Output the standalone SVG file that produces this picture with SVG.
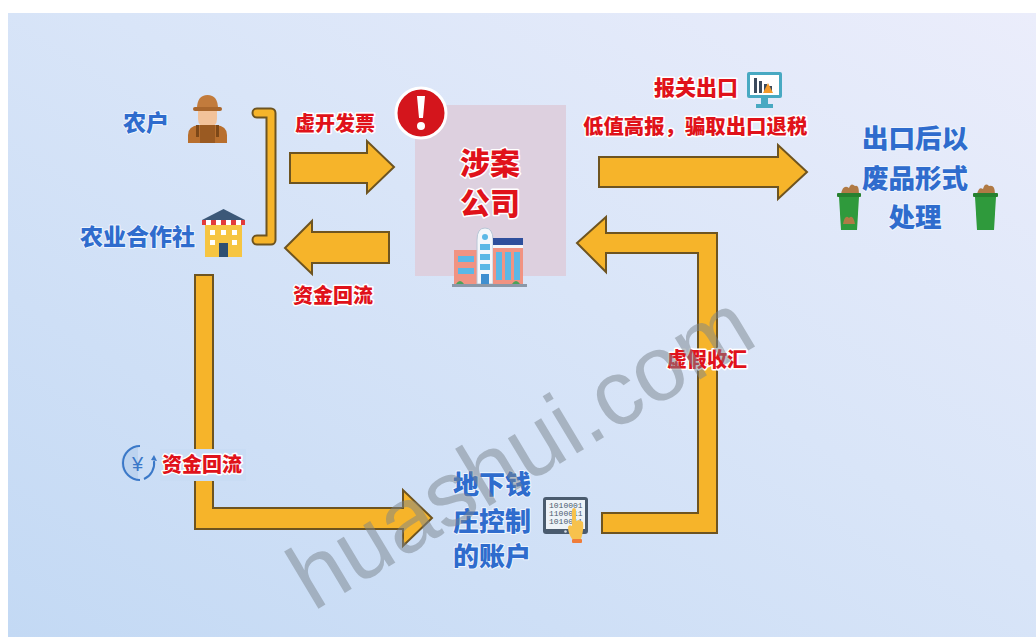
<svg xmlns="http://www.w3.org/2000/svg" width="1036" height="637" viewBox="0 0 1036 637">
  <defs>
    <linearGradient id="bg" x1="0" y1="1" x2="1" y2="0">
      <stop offset="0" stop-color="#c3d9f4"/>
      <stop offset="0.55" stop-color="#d9e5f8"/>
      <stop offset="1" stop-color="#ebedfb"/>
    </linearGradient>
    <style>
      .arrow { fill: #f6b42a; stroke: #6e5420; stroke-width: 2; stroke-linejoin: miter; }
      .red { font-family: "Noto Sans CJK SC", sans-serif; font-weight: 900; fill: #e0121a; stroke: #ffffff; stroke-width: 3; paint-order: stroke; stroke-linejoin: round; }
      .blue { font-family: "Noto Sans CJK SC", sans-serif; font-weight: 900; fill: #2f6ccd; stroke: #eef4fd; stroke-width: 2; paint-order: stroke; stroke-linejoin: round; }
      .mark { font-family: "Liberation Sans", "DejaVu Sans", sans-serif; font-size: 92px; fill: #7a838c; fill-opacity: 0.5; }
      .bin { fill: #2f9a3c; }
      .bag { fill: #b07a45; }
    </style>
  </defs>

  <!-- page -->
  <rect width="1036" height="637" fill="#ffffff"/>
  <rect x="8" y="13" width="1028" height="624" fill="url(#bg)"/>

  <!-- connectors -->
  <g id="connectors">
    <!-- bracket joining the two suppliers -->
    <path d="M257,113 H271 V240 H257" fill="none" stroke="#6e5420" stroke-width="11" stroke-linecap="round" stroke-linejoin="round"/>
    <path d="M257,113 H271 V240 H257" fill="none" stroke="#f6b42a" stroke-width="7" stroke-linecap="round" stroke-linejoin="round"/>
    <!-- invoices to company -->
    <path class="arrow" d="M290,153 H367 V141 L394,167 L367,193 V183 H290 Z"/>
    <!-- money back to suppliers -->
    <path class="arrow" d="M389,232 H312 V221 L285,248 L312,274 V263 H389 Z"/>
    <!-- export -->
    <path class="arrow" d="M599,157 H778 V145 L807,172 L778,199 V187 H599 Z"/>
    <!-- suppliers to underground bank -->
    <path class="arrow" d="M195,275 H213 V508 H403 V490 L432,518 L403,546 V529 H195 Z"/>
    <!-- fake remittance loop -->
    <path class="arrow" d="M577,243 L606,217 V233 H717 V533 H602 V513 H698 V253 H606 V272 Z"/>
  </g>

  <!-- farmer -->
  <g id="farmer">
    <text class="blue" x="123" y="131" font-size="23">农户</text>
    <g transform="translate(188,95)">
      <path d="M9,14 Q9,0 19.5,0 Q30,0 30,14 Z" fill="#c27b3c"/>
      <rect x="5" y="12" width="29" height="4" rx="2" fill="#a9662c"/>
      <path d="M10,16 H29 V24 Q29,32 19.5,32 Q10,32 10,24 Z" fill="#f2c29a"/>
      <path d="M0,48 V40 Q0,31 11,30 H28 Q39,31 39,40 V48 Z" fill="#b86f2e"/>
      <rect x="12" y="30" width="15" height="18" fill="#9a5a22"/>
      <rect x="8" y="30" width="3" height="12" fill="#7d4818"/>
      <rect x="28" y="30" width="3" height="12" fill="#7d4818"/>
    </g>
  </g>

  <!-- cooperative -->
  <g id="cooperative">
    <text class="blue" x="80" y="245" font-size="23">农业合作社</text>
    <g transform="translate(202,207)">
      <path d="M0,13 L21.5,2 L43,13 Z" fill="#3c5878"/>
      <rect x="0" y="13" width="43" height="5" fill="#e23b3b"/>
      <rect x="4" y="13" width="5" height="5" fill="#ffffff"/>
      <rect x="14" y="13" width="5" height="5" fill="#ffffff"/>
      <rect x="24" y="13" width="5" height="5" fill="#ffffff"/>
      <rect x="34" y="13" width="5" height="5" fill="#ffffff"/>
      <rect x="3" y="18" width="37" height="32" fill="#f6c542"/>
      <rect x="8" y="23" width="5" height="5" fill="#ffffff"/>
      <rect x="19" y="23" width="5" height="5" fill="#ffffff"/>
      <rect x="30" y="23" width="5" height="5" fill="#ffffff"/>
      <rect x="8" y="33" width="5" height="5" fill="#ffffff"/>
      <rect x="30" y="33" width="5" height="5" fill="#ffffff"/>
      <rect x="17" y="36" width="9" height="14" fill="#2f5072"/>
    </g>
  </g>

  <!-- invoice label -->
  <g id="label-invoice">
    <text class="red" x="295" y="131" font-size="20">虚开发票</text>
  </g>

  <!-- money return label (upper) -->
  <g id="label-return-top">
    <text class="red" x="293" y="303" font-size="20">资金回流</text>
  </g>

  <!-- company -->
  <g id="company">
    <rect x="415" y="105" width="151" height="171" fill="#ddd0df"/>
    <text class="red" x="490" y="174" font-size="30" text-anchor="middle">涉案</text>
    <text class="red" x="490" y="214" font-size="30" text-anchor="middle">公司</text>
    <g id="alert">
      <circle cx="421" cy="113" r="25" fill="#d4151c" stroke="#ffffff" stroke-width="3"/>
      <path d="M417,96 H425 L423,118 H419 Z" fill="#ffffff"/>
      <circle cx="421" cy="126" r="4" fill="#ffffff"/>
    </g>
    <g id="building" transform="translate(452,228)">
      <rect x="2" y="22" width="24" height="34" fill="#f19382"/>
      <rect x="6" y="28" width="16" height="6" fill="#5bb8e6"/>
      <rect x="6" y="40" width="16" height="6" fill="#5bb8e6"/>
      <path d="M25,56 V12 Q25,0 33,0 Q41,0 41,12 V56 Z" fill="#f4f7fb" stroke="#b8c6d6" stroke-width="1"/>
      <circle cx="33" cy="9" r="3" fill="#5bb8e6"/>
      <rect x="28" y="16" width="10" height="6" fill="#5bb8e6"/>
      <rect x="28" y="26" width="10" height="6" fill="#5bb8e6"/>
      <rect x="28" y="36" width="10" height="6" fill="#5bb8e6"/>
      <rect x="29" y="46" width="8" height="10" fill="#3f8fd0"/>
      <rect x="41" y="20" width="30" height="36" fill="#f19382"/>
      <rect x="41" y="10" width="30" height="7" fill="#2e4f9c"/>
      <rect x="41" y="17" width="30" height="3" fill="#f4f7fb"/>
      <rect x="44" y="24" width="6" height="28" fill="#5bb8e6"/>
      <rect x="53" y="24" width="6" height="28" fill="#5bb8e6"/>
      <rect x="62" y="24" width="6" height="28" fill="#5bb8e6"/>
      <path d="M4,56 Q8,50 12,56 Z M60,56 Q64,50 68,56 Z" fill="#4aa35a"/>
      <rect x="0" y="56" width="75" height="3" fill="#8a98a8"/>
    </g>
  </g>

  <!-- export labels -->
  <g id="export">
    <text class="red" x="654" y="95" font-size="21">报关出口</text>
    <text class="red" x="583" y="134" font-size="20.4">低值高报，骗取出口退税</text>
    <g id="monitor" transform="translate(747,72)">
      <rect x="0" y="0" width="35" height="26" rx="2" fill="#48a9c2"/>
      <rect x="3" y="3" width="29" height="20" fill="#ffffff"/>
      <rect x="7" y="6" width="3" height="15" fill="#3b4a5c"/>
      <rect x="12" y="9" width="3" height="12" fill="#3b4a5c"/>
      <rect x="17" y="12" width="3" height="9" fill="#3b4a5c"/>
      <rect x="22" y="14" width="3" height="7" fill="#3b4a5c"/>
      <path d="M16,21 L21,11 L26,21 Z" fill="#f49a2a"/>
      <rect x="14" y="26" width="7" height="6" fill="#48a9c2"/>
      <rect x="9" y="32" width="17" height="4" fill="#48a9c2"/>
    </g>
  </g>

  <!-- scrap disposal -->
  <g id="scrap">
    <text class="blue" x="915" y="148" font-size="26.5" text-anchor="middle">出口后以</text>
    <text class="blue" x="915" y="188" font-size="26.5" text-anchor="middle">废品形式</text>
    <text class="blue" x="915" y="227" font-size="26.5" text-anchor="middle">处理</text>
    <g transform="translate(837,182)">
      <path class="bag" d="M4,12 Q6,2 12,6 Q14,0 18,4 Q22,2 22,12 Z"/>
      <rect x="0" y="11" width="24" height="4" rx="1" fill="#26802f"/>
      <path class="bin" d="M2,15 H22 L20,48 H4 Z"/>
      <path class="bag" d="M6,42 Q8,32 12,36 Q16,32 18,42 Z"/>
    </g>
    <g transform="translate(973,182)">
      <path class="bag" d="M4,12 Q6,4 10,7 Q12,0 16,4 Q22,2 22,12 Z"/>
      <rect x="0" y="11" width="25" height="4" rx="1" fill="#26802f"/>
      <path class="bin" d="M2,15 H23 L21,48 H4 Z"/>
    </g>
  </g>

  <!-- money return label (lower) -->
  <g id="label-return-bottom">
    <rect x="160" y="449" width="86" height="32" fill="#c9dcf4"/>
    <g id="yen" transform="translate(138,463)">
      <path d="M0,-17 A17,17 0 0,0 0,17 Z" fill="#bcd3ef"/>
      <path d="M2,-17 A17,17 0 0,0 2,17" fill="none" stroke="#3a78c8" stroke-width="2"/>
      <path d="M6,16 A17,17 0 0,0 16,-2" fill="none" stroke="#3a78c8" stroke-width="2"/>
      <path d="M13,-3 L16,-8 L19,-2 Z" fill="#3a78c8"/>
      <text x="-6" y="8" font-family="Liberation Sans, sans-serif" font-size="20" fill="#3a78c8">¥</text>
    </g>
    <text class="red" x="162" y="472" font-size="20">资金回流</text>
  </g>

  <!-- fake remittance label -->
  <g id="label-remit">
    <text class="red" x="707" y="367" font-size="20" text-anchor="middle">虚假收汇</text>
  </g>

  <!-- underground bank accounts -->
  <g id="underground">
    <text class="blue" x="453" y="494" font-size="26">地下钱</text>
    <text class="blue" x="453" y="531" font-size="26">庄控制</text>
    <text class="blue" x="453" y="566" font-size="26">的账户</text>
    <g transform="translate(543,497)">
      <rect x="0" y="0" width="45" height="37" rx="3" fill="#4a5b6e"/>
      <rect x="3" y="3" width="39" height="29" fill="#eef3f8"/>
      <circle cx="22.5" cy="34.5" r="1.3" fill="#d6dde5"/>
      <text x="6" y="11" font-family="Liberation Mono, monospace" font-size="8" fill="#4a5b6e">1010001</text>
      <text x="6" y="19" font-family="Liberation Mono, monospace" font-size="8" fill="#4a5b6e">1100011</text>
      <text x="6" y="27" font-family="Liberation Mono, monospace" font-size="8" fill="#4a5b6e">1010011</text>
      <path d="M29,14 Q29,11 31,11 Q33,11 33,14 V24 Q36,22 40,25 Q41,33 38,42 H29 Q25,36 25,30 Q26,27 29,29 Z" fill="#f7c24d"/>
      <rect x="29" y="42" width="10" height="4" rx="1" fill="#ef7d3a"/>
    </g>
  </g>

  <!-- site mark -->
  <text class="mark" transform="rotate(-31 313 612)" x="313" y="612">huashui.com</text>
</svg>
